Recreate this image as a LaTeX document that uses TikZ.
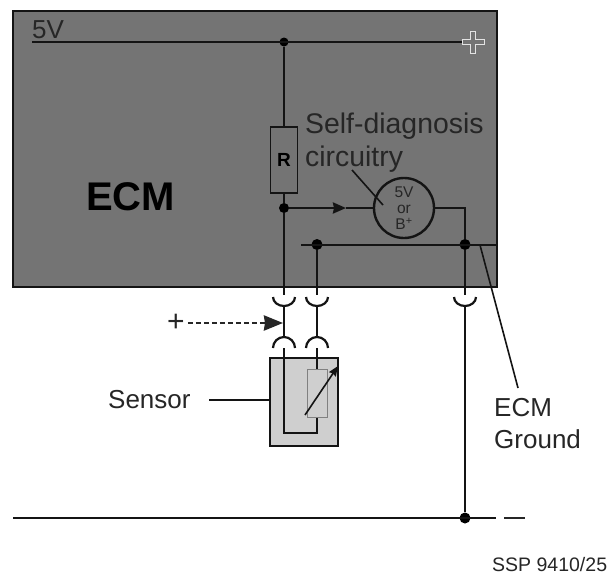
\documentclass[tikz,border=0pt]{standalone}
\usepackage{fontspec}
\setmainfont{Liberation Sans}
\usepackage{tikz}
\usetikzlibrary{positioning,calc,arrows.meta}
\tikzset{>=stealth}
\definecolor{ecmgray}{HTML}{747474}
\definecolor{sensgray}{HTML}{CFCFCF}
\definecolor{wirecol}{HTML}{141414}
\definecolor{labelcol}{HTML}{262626}
\tikzset{
  wire/.style={draw=wirecol,line width=2.6pt},
  thinwire/.style={draw=wirecol,line width=1.6pt},
  joint/.style={circle,fill=black,inner sep=0pt,minimum size=10pt},
  cup/.style={draw=wirecol,line width=2.2pt},
  label/.style={text=labelcol,font=\fontsize{26}{30}\selectfont,inner sep=0pt},
}
\begin{document}
\begin{tikzpicture}[x=1pt,y=-1pt]
\useasboundingbox (0,0) rectangle (615,576);
\fill[white] (0,0) rectangle (615,576);
% ECM housing
\node[draw=wirecol,fill=ecmgray,line width=2.4pt,minimum width=484pt,minimum height=276pt,inner sep=0pt] (ecm) at (255,149) {};
\node[font=\bfseries\fontsize{40}{44}\selectfont,text=black,inner sep=0pt] (ecmlabel) at (130.5,197) {ECM};
% supply rail
\coordinate (railL) at (32,42);
\coordinate (railR) at (462,42);
\coordinate (plus) at (473,42);
\node[joint,minimum size=9pt] (top) at (284,42) {};
\node[label,anchor=base west] (fivev) at (32,38) {5V};
\draw[wire] (railL) -- (railR);
\draw[white!80!ecmgray,line width=.8pt] (plus) +(-11,-2.5) -- +(-2.5,-2.5) -- +(-2.5,-11) -- +(2.5,-11) -- +(2.5,-2.5) -- +(11,-2.5) -- +(11,2.5) -- +(2.5,2.5) -- +(2.5,11) -- +(-2.5,11) -- +(-2.5,2.5) -- +(-11,2.5) -- cycle;
% pull-up and self diagnosis
\node[draw=wirecol,line width=1.5pt,minimum width=27pt,minimum height=66pt,inner sep=0pt,font=\bfseries\fontsize{19}{19}\selectfont,text=black] (res) at (284,160) {R};
\node[joint] (sense) at (284,208) {};
\node[circle,draw=wirecol,line width=2.4pt,minimum size=60pt,inner sep=0pt,align=center,text=labelcol,font=\fontsize{15.5}{16}\selectfont] (diag) at (404,208) {5V\\or\\B\textsuperscript{+}};
\node[label,anchor=base west,font=\fontsize{28.4}{30}\selectfont] (selfd) at (305,133) {Self-diagnosis};
\node[label,anchor=base west,font=\fontsize{28.4}{30}\selectfont] (circ) at (305,166) {circuitry};
\coordinate (leadA) at (352,170);
\coordinate (leadB) at (383,205);
\coordinate (flow) at (346,208);
\draw[thinwire] (leadA) -- (leadB);
\draw[wire] (top) -- (res);
\draw[wire] (res) -- (sense);
\draw[wire,-{Stealth[length=13pt,width=11pt,inset=1pt]}] (sense) -- (flow);
\draw[wire] (flow) -- (diag.west);
\node[joint,minimum size=11pt] (gndJ) at (465,244.5) {};
\node[joint,minimum size=11pt] (sigJ) at (317,244.5) {};
\coordinate (busL) at (301,244.5);
\coordinate (busR) at (497,244.5);
\draw[wire,line width=2pt] (busL) -- (busR);
\draw[wire] (diag.east) -| (gndJ);
% plug contacts
\coordinate (cupA) at (284,297);
\coordinate (cupB) at (317,297);
\coordinate (cupC) at (465,297);
\coordinate (capA) at (284,348);
\coordinate (capB) at (317,348);
\foreach \c in {cupA,cupB,cupC} {
  \draw[cup] ($(\c)+(-11,0)$) arc[start angle=180,end angle=360,x radius=11pt,y radius=9pt];
}
\foreach \c in {capA,capB} {
  \draw[cup] ($(\c)+(-11,0)$) arc[start angle=180,end angle=0,x radius=11pt,y radius=11pt];
}
% leads
\draw[wire] (sense) -- (284,295);
\draw[wire] (sigJ) -- (317,295);
\draw[wire] (gndJ) -- (465,295);
\draw[wire] (284,307) -- (284,337);
\draw[wire] (317,307) -- (317,337);
% sensor
\node[draw=wirecol,fill=sensgray,line width=2.6pt,minimum width=68pt,minimum height=88pt,inner sep=0pt] (sensor) at (304,402) {};
\node[draw=gray,fill=sensgray,line width=1pt,minimum width=20pt,minimum height=48pt,inner sep=0pt] (pot) at (317,393) {};
\draw[wire] (284,348) |- (317,433) -- (pot.south);
\draw[wire] (317,348) -- (pot.north);
\coordinate (potA) at (305,415);
\coordinate (potB) at (338,366);
\draw[thinwire,-{Stealth[length=10pt,width=8pt,inset=1pt]}] (potA) -- (potB);
\node[label,anchor=base west] (senslabel) at (108,408) {Sensor};
\coordinate (sensL) at (209,400);
\draw[wire] (sensL) -- (sensL -| sensor.west);
% test voltage
\node[label,text=labelcol,font=\fontsize{30}{30}\selectfont] (plusin) at (176,323) {+};
\coordinate (probe) at (283,323);
\draw[draw=labelcol,line width=2.8pt,dash pattern=on 5pt off 3pt,-{Stealth[length=19pt,width=15pt,inset=1pt]}] ($(plusin.east)+(3,0)$) -- (probe);
% ground
\node[joint,minimum size=11pt] (gndB) at (465,518) {};
\coordinate (gndL) at (13,518);
\coordinate (gndR) at (496,518);
\coordinate (dashL) at (504,518);
\coordinate (dashR) at (525,518);
\draw[wire,line width=2pt] (gndL) -- (gndR);
\draw[wire,line width=2pt,draw=labelcol] (dashL) -- (dashR);
\draw[wire] (465,307) -- (gndB);
% callouts
\coordinate (ecmgA) at (480,245);
\coordinate (ecmgB) at (518,388);
\draw[thinwire] (ecmgA) -- (ecmgB);
\node[label,anchor=base west] (ecmg1) at (494,416) {ECM};
\node[label,anchor=base west] (ecmg2) at (494,448) {Ground};
\node[label,anchor=base west,font=\fontsize{19.5}{22}\selectfont] (ssp) at (492,571) {SSP 9410/25};
\end{tikzpicture}
\end{document}
